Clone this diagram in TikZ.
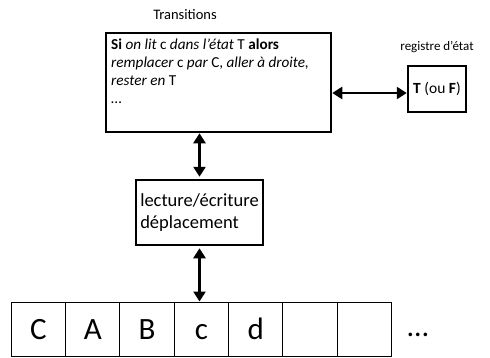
\documentclass[tikz,border=0pt]{standalone}
\usepackage{fontspec}
\setmainfont{Carlito}
\usetikzlibrary{arrows.meta,positioning}

\begin{document}
\begin{tikzpicture}[x=1pt,y=-1pt,
    boite/.style={draw,line width=2.5pt,inner sep=3pt},
    case/.style={draw,line width=1pt,minimum width=54.3pt,minimum height=54pt,
      inner sep=0pt,text height=21pt,text depth=0pt,
      font=\fontsize{31}{33}\selectfont},
    fleche/.style={line width=2.6pt,
      {Triangle[length=10pt,width=12pt]}-{Triangle[length=10pt,width=12pt]}}]
  \useasboundingbox (0,0) rectangle (490,357);

  % machine : transitions
  \node[boite,minimum width=225pt,minimum height=99pt] (trans) at (218.5,82.5) {};
  \node[font=\fontsize{14.5}{16}\selectfont] (titre) at (185,15) {Transitions};
  \node[anchor=north west,align=left,inner sep=0pt,
        font=\fontsize{15.2}{18}\selectfont] (regles) at (111,39)
    {\textbf{Si} \textit{on lit} c \textit{dans l'état} T \textbf{alors}\\
     \textit{remplacer} c \textit{par} C, \textit{aller à droite,}\\
     \textit{rester en} T\\
     \dots};

  % registre d'etat
  \node[boite,minimum width=58pt,minimum height=46pt,
        font=\fontsize{15.5}{17}\selectfont] (reg) at (437,89) {\textbf{T} (ou \textbf{F})};
  \node[font=\fontsize{13}{15}\selectfont] (nomreg) at (437,47) {registre d'état};

  % tete de lecture
  \node[boite,minimum width=127pt,minimum height=65pt,align=left,
        font=\fontsize{18.5}{22}\selectfont] (tete) at (199.5,212.5)
    {lecture/écriture\\déplacement};

  % ruban
  \foreach \l [count=\i from 0] in {C,A,B,c,d,{},{}}
    \node[case] (c\i) at (38.5+54.3*\i,329) {\l};
  \node[font=\fontsize{30}{32}\selectfont] (suite) at (418,335) {\dots};

  % fleches
  \draw[fleche] ([yshift=2pt]tete.north) -- (tete.north |- trans.south);
  \draw[fleche] ([yshift=-2pt]tete.south) -- (tete.south |- c3.north);
  \draw[fleche] ([yshift=-4pt]reg.west) -- ([yshift=-4pt]reg.west -| trans.east);

\end{tikzpicture}
\end{document}
